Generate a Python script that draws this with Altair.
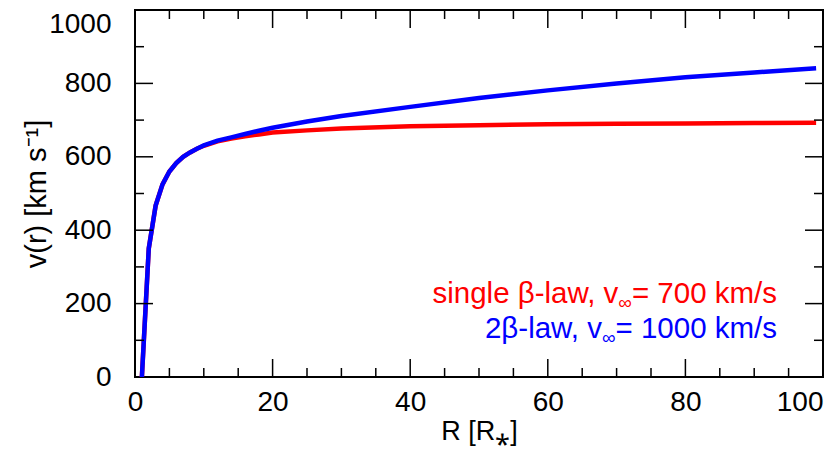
import altair as alt
import pandas as pd

# ---- data ----
r_vals = [1, 2, 3, 4, 5, 6, 7, 8, 9, 10, 12, 14, 16, 18, 20, 25, 30, 40, 50, 60, 70, 80, 90, 99]
v_single = [0, 350, 467, 525, 560, 583, 600, 612, 622, 630, 642, 650, 656, 661, 666, 672, 677, 683, 686, 689, 690, 691, 692, 693]
v_double = [0, 350, 467, 525, 560, 583, 600, 612, 622, 631, 644, 653, 662, 671, 679, 696, 711, 736, 760, 781, 800, 817, 830, 841]

x_major = [20, 40, 60, 80]
x_minor = [5, 10, 15, 25, 30, 35, 45, 50, 55, 65, 70, 75, 85, 90, 95]
y_major = [200, 400, 600, 800]
y_minor = [100, 300, 500, 700, 900]
x_labels = [0, 20, 40, 60, 80, 100]
y_labels = [0, 200, 400, 600, 800, 1000]

legend_red = ["single \u03b2-law, v", "\u221e", "= 700 km/s"]
legend_blue = ["2\u03b2-law, v", "\u221e", "= 1000 km/s"]

# ---- layout ----
W, H = 688, 367
FONT = "Liberation Sans"
TICK_FS = 28
XTITLE_FS = 27
YTITLE_FS = 29
LEG_FS = 29.5
SUB_FS = 19
MAJ, MIN = 18, 9

# Arial / Liberation Sans advance widths (em/1000)
ADV = {" ": 278, ",": 278, "-": 333, "/": 278, "=": 584, "a": 556, "e": 556, "g": 556,
       "i": 222, "k": 500, "l": 222, "m": 833, "n": 556, "s": 500, "v": 500, "w": 722,
       "\u03b2": 575, "\u221e": 713}


def text_width(s, fs):
    return sum(ADV.get(c, 556) for c in s) * fs / 1000.0


xs = alt.Scale(domain=[0, 100], nice=False, zero=False)
ys = alt.Scale(domain=[0, 1000], nice=False)

df_red = pd.DataFrame({"r": r_vals, "v": v_single})
df_blue = pd.DataFrame({"r": r_vals, "v": v_double})

x_axis = alt.Axis(
    values=x_labels, ticks=False, domain=False, grid=False, format="d",
    labelFontSize=TICK_FS, labelPadding=11, labelOverlap=False,
    labelAlign={"condition": {"test": "datum.value >= 100", "value": "right"}, "value": "center"},
    title="R [R\u204e]", titleFontSize=XTITLE_FS, titleFontWeight="normal", titlePadding=2,
)
y_axis = alt.Axis(
    values=y_labels, ticks=False, domain=False, grid=False, format="d",
    labelFontSize=TICK_FS, labelPadding=24, labelOverlap=False,
    labelBaseline={"condition": {"test": "datum.value >= 1000", "value": "top"}, "value": "middle"},
    title="v(r) [km s\u207b\u00b9]", titleFontSize=YTITLE_FS, titleFontWeight="normal", titlePadding=-3,
)

red_line = alt.Chart(df_red).mark_line(color="#ff0000", strokeWidth=4.5).encode(
    x=alt.X("r:Q", scale=xs, axis=x_axis),
    y=alt.Y("v:Q", scale=ys, axis=y_axis),
)
blue_line = alt.Chart(df_blue).mark_line(color="#0000ff", strokeWidth=4.5).encode(
    x=alt.X("r:Q", scale=xs),
    y=alt.Y("v:Q", scale=ys),
)


def xticks(vals, length):
    d = pd.DataFrame({"t": vals})
    bottom = alt.Chart(d).mark_rule(color="black", strokeWidth=1.5).encode(
        x=alt.X("t:Q", scale=xs), y=alt.value(H), y2=alt.value(H - length))
    top = alt.Chart(d).mark_rule(color="black", strokeWidth=1.5).encode(
        x=alt.X("t:Q", scale=xs), y=alt.value(0), y2=alt.value(length))
    return [bottom, top]


def yticks(vals, length):
    d = pd.DataFrame({"t": vals})
    left = alt.Chart(d).mark_rule(color="black", strokeWidth=1.5).encode(
        y=alt.Y("t:Q", scale=ys), x=alt.value(0), x2=alt.value(length))
    right = alt.Chart(d).mark_rule(color="black", strokeWidth=1.5).encode(
        y=alt.Y("t:Q", scale=ys), x=alt.value(W), x2=alt.value(W - length))
    return [left, right]


def legend_line(parts, color, ypix):
    xr = 642
    main1, sub, main2 = parts
    w2 = text_width(main2, LEG_FS)
    ws = text_width(sub, SUB_FS)
    layers = []
    layers.append(alt.Chart(pd.DataFrame({"t": [main2]})).mark_text(
        align="right", baseline="alphabetic", fontSize=LEG_FS, color=color, font=FONT
    ).encode(x=alt.value(xr), y=alt.value(ypix), text="t:N"))
    layers.append(alt.Chart(pd.DataFrame({"t": [sub]})).mark_text(
        align="right", baseline="alphabetic", fontSize=SUB_FS, color=color, font=FONT,
        dx=-w2, dy=6
    ).encode(x=alt.value(xr), y=alt.value(ypix), text="t:N"))
    layers.append(alt.Chart(pd.DataFrame({"t": [main1]})).mark_text(
        align="right", baseline="alphabetic", fontSize=LEG_FS, color=color, font=FONT,
        dx=-(w2 + ws)
    ).encode(x=alt.value(xr), y=alt.value(ypix), text="t:N"))
    return layers


layers = [red_line, blue_line]
layers += xticks(x_major, MAJ) + xticks(x_minor, MIN)
layers += yticks(y_major, MAJ) + yticks(y_minor, MIN)
layers += legend_line(legend_red, "#ff0000", 293)
layers += legend_line(legend_blue, "#0000ff", 328)

chart = alt.layer(*layers).properties(
    width=W, height=H,
    autosize=alt.AutoSizeParams(type="none"),
    padding={"left": 135, "top": 10, "right": 2, "bottom": 74},
).configure(
    font=FONT, background="white"
).configure_view(
    stroke="black", strokeWidth=2
).configure_axis(
    labelColor="black", titleColor="black", labelFont=FONT, titleFont=FONT
)

chart.save("out.html", embed_options={"renderer": "svg", "actions": False})
